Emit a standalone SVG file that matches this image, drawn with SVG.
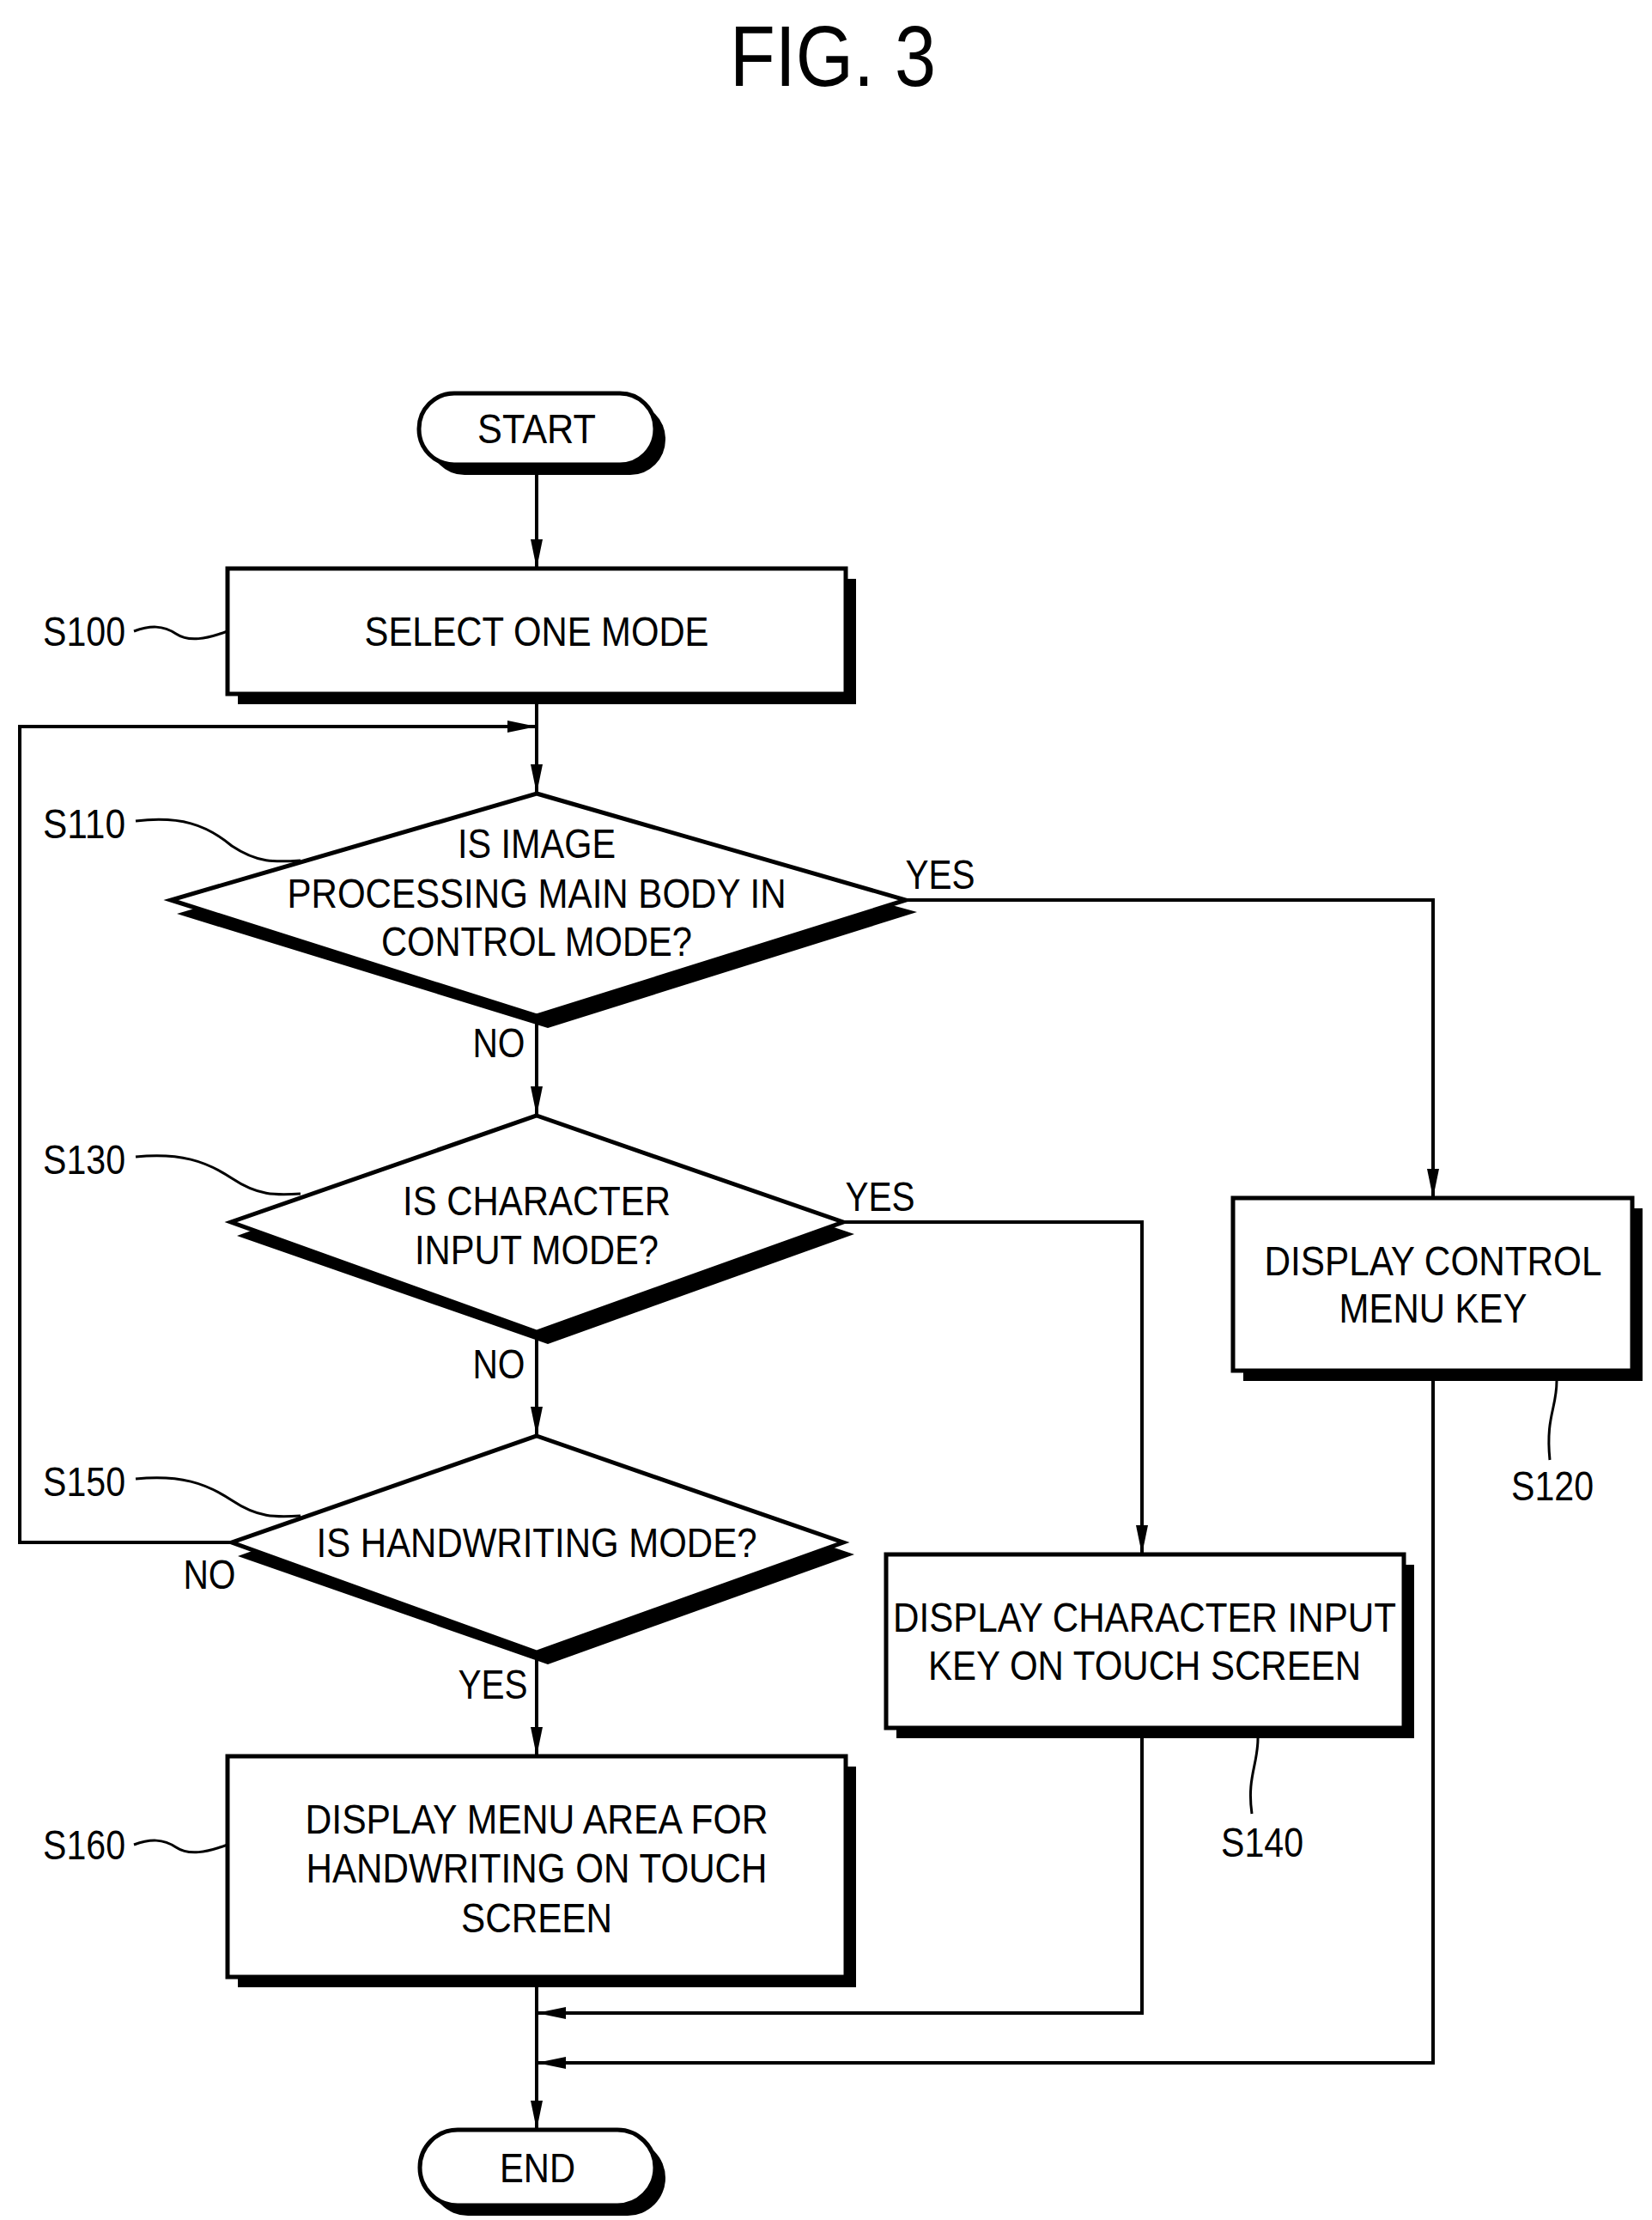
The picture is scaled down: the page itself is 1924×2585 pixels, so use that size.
<svg xmlns="http://www.w3.org/2000/svg" width="1924" height="2585" viewBox="0 0 1924 2585">
<defs>
<style>
text{font-family:"Liberation Sans",Arial,sans-serif;font-size:48px;fill:#000;text-anchor:middle;dominant-baseline:central}
.lbl{text-anchor:start}
.shape{fill:#fff;stroke:#000;stroke-width:5}
.shadow{fill:#000}
.line{fill:none;stroke:#000;stroke-width:4}
.lead{fill:none;stroke:#000;stroke-width:3}
</style>
<marker id="ahv" markerWidth="34" markerHeight="16" refX="34" refY="8" orient="auto" markerUnits="userSpaceOnUse" viewBox="0 0 34 16">
<path d="M0,1 L34,8 L0,15 Z" fill="#000"/>
</marker>
</defs>
<rect width="1924" height="2585" fill="#fff"/>
<text x="970" y="65" style="font-size:100px" textLength="240" lengthAdjust="spacingAndGlyphs">FIG. 3</text>

<g id="connectors">
<path class="line" d="M625,541 V662" marker-end="url(#ahv)"/>
<path class="line" d="M625,808 V924" marker-end="url(#ahv)"/>
<path class="line" d="M270,1796 H23 V846 H625" marker-end="url(#ahv)"/>
<path class="line" d="M625,1183 V1299" marker-end="url(#ahv)"/>
<path class="line" d="M625,1551 V1672" marker-end="url(#ahv)"/>
<path class="line" d="M625,1924 V2045" marker-end="url(#ahv)"/>
<path class="line" d="M625,2302 V2480" marker-end="url(#ahv)"/>
<path class="line" d="M1055,1048 H1669 V1395" marker-end="url(#ahv)"/>
<path class="line" d="M982,1423 H1330 V1810" marker-end="url(#ahv)"/>
<path class="line" d="M1330,2012 V2344 H625" marker-end="url(#ahv)"/>
<path class="line" d="M1669,1596 V2402 H625" marker-end="url(#ahv)"/>
<text x="1095" y="1018" textLength="81" lengthAdjust="spacingAndGlyphs">YES</text>
<text x="581" y="1214" textLength="61" lengthAdjust="spacingAndGlyphs">NO</text>
<text x="1025" y="1393" textLength="81" lengthAdjust="spacingAndGlyphs">YES</text>
<text x="581" y="1588" textLength="61" lengthAdjust="spacingAndGlyphs">NO</text>
<text x="244" y="1833" textLength="61" lengthAdjust="spacingAndGlyphs">NO</text>
<text x="574" y="1961" textLength="81" lengthAdjust="spacingAndGlyphs">YES</text>
</g>

<g id="start">
<rect class="shadow" x="500" y="470" width="275" height="83" rx="41"/>
<rect class="shape" x="488" y="458" width="275" height="83" rx="41"/>
<text x="625" y="499" textLength="138" lengthAdjust="spacingAndGlyphs">START</text>
</g>

<g id="S100">
<rect class="shadow" x="277" y="674" width="720" height="146"/>
<rect class="shape" x="265" y="662" width="720" height="146"/>
<text x="625" y="735" textLength="401" lengthAdjust="spacingAndGlyphs">SELECT ONE MODE</text>
<text class="lbl" x="50" y="735" textLength="96" lengthAdjust="spacingAndGlyphs">S100</text>
<path class="lead" d="M156,735 C175,728 190,728 205,738 C220,748 240,744 265,735"/>
</g>

<g id="S110">
<polygon class="shadow" points="625,940 1068,1062 638,1197 206,1064"/>
<polygon class="shape" points="625,924 1055,1048 625,1183 199,1048"/>
<text x="625" y="982" textLength="184" lengthAdjust="spacingAndGlyphs">IS IMAGE</text>
<text x="625" y="1040" textLength="581" lengthAdjust="spacingAndGlyphs">PROCESSING MAIN BODY IN</text>
<text x="625" y="1096" textLength="362" lengthAdjust="spacingAndGlyphs">CONTROL MODE?</text>
<text class="lbl" x="50" y="959" textLength="96" lengthAdjust="spacingAndGlyphs">S110</text>
<path class="lead" d="M158,956 C210,950 240,960 270,985 C300,1005 320,1004 350,1002"/>
</g>

<g id="S120">
<rect class="shadow" x="1448" y="1407" width="465" height="201"/>
<rect class="shape" x="1436" y="1395" width="465" height="201"/>
<text x="1669" y="1468" textLength="393" lengthAdjust="spacingAndGlyphs">DISPLAY CONTROL</text>
<text x="1669" y="1523" textLength="219" lengthAdjust="spacingAndGlyphs">MENU KEY</text>
<text x="1808" y="1730" textLength="96" lengthAdjust="spacingAndGlyphs">S120</text>
<path class="lead" d="M1813,1608 C1813,1640 1800,1650 1805,1700"/>
</g>

<g id="S130">
<polygon class="shadow" points="625,1313 995,1437 638,1565 276,1439"/>
<polygon class="shape" points="625,1299 982,1423 625,1551 269,1423"/>
<text x="625" y="1398" textLength="312" lengthAdjust="spacingAndGlyphs">IS CHARACTER</text>
<text x="625" y="1455" textLength="284" lengthAdjust="spacingAndGlyphs">INPUT MODE?</text>
<text class="lbl" x="50" y="1350" textLength="96" lengthAdjust="spacingAndGlyphs">S130</text>
<path class="lead" d="M158,1347 C210,1342 240,1352 270,1372 C300,1392 320,1392 350,1390"/>
</g>

<g id="S140">
<rect class="shadow" x="1044" y="1822" width="603" height="202"/>
<rect class="shape" x="1032" y="1810" width="603" height="202"/>
<text x="1333" y="1883" textLength="586" lengthAdjust="spacingAndGlyphs">DISPLAY CHARACTER INPUT</text>
<text x="1333" y="1939" textLength="504" lengthAdjust="spacingAndGlyphs">KEY ON TOUCH SCREEN</text>
<text x="1470" y="2145" textLength="96" lengthAdjust="spacingAndGlyphs">S140</text>
<path class="lead" d="M1465,2024 C1465,2055 1452,2070 1458,2112"/>
</g>

<g id="S150">
<polygon class="shadow" points="625,1686 995,1810 638,1938 277,1812"/>
<polygon class="shape" points="625,1672 982,1796 625,1924 270,1796"/>
<text x="625" y="1796" textLength="513" lengthAdjust="spacingAndGlyphs">IS HANDWRITING MODE?</text>
<text class="lbl" x="50" y="1725" textLength="96" lengthAdjust="spacingAndGlyphs">S150</text>
<path class="lead" d="M158,1722 C210,1717 240,1727 270,1747 C300,1767 320,1767 350,1765"/>
</g>

<g id="S160">
<rect class="shadow" x="277" y="2057" width="720" height="257"/>
<rect class="shape" x="265" y="2045" width="720" height="257"/>
<text x="625" y="2118" textLength="539" lengthAdjust="spacingAndGlyphs">DISPLAY MENU AREA FOR</text>
<text x="625" y="2175" textLength="537" lengthAdjust="spacingAndGlyphs">HANDWRITING ON TOUCH</text>
<text x="625" y="2233" textLength="176" lengthAdjust="spacingAndGlyphs">SCREEN</text>
<text class="lbl" x="50" y="2148" textLength="96" lengthAdjust="spacingAndGlyphs">S160</text>
<path class="lead" d="M156,2148 C175,2141 190,2141 205,2151 C220,2161 240,2157 265,2148"/>
</g>

<g id="end">
<rect class="shadow" x="501" y="2492" width="274" height="88" rx="44"/>
<rect class="shape" x="489" y="2480" width="274" height="88" rx="44"/>
<text x="626" y="2524" textLength="88" lengthAdjust="spacingAndGlyphs">END</text>
</g>
</svg>
